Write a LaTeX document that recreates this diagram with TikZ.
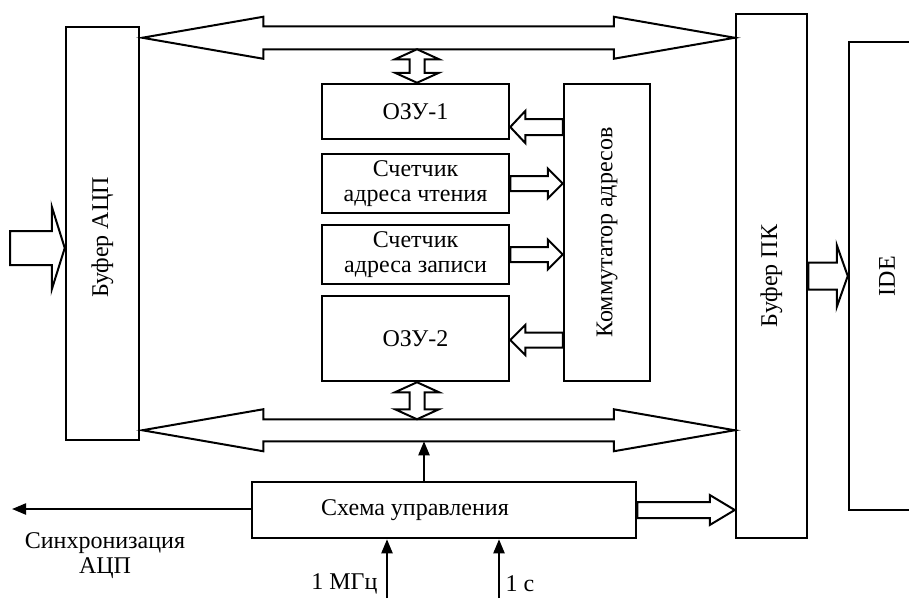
\documentclass[tikz,border=0pt]{standalone}
\usepackage{fontspec}
\setmainfont{Liberation Serif}
\usetikzlibrary{calc}
\usetikzlibrary{arrows.meta}

\newcommand{\fatarrow}[5]{%
  \coordinate (fa-h) at ($(#2)!#5!(#1)$);
  \draw[hollow] ($(#1)!#3!90:(#2)$) -- ($(fa-h)!#3!90:(#2)$) -- ($(fa-h)!#4!90:(#2)$) -- (#2)
    -- ($(fa-h)!#4!-90:(#2)$) -- ($(fa-h)!#3!-90:(#2)$) -- ($(#1)!#3!-90:(#2)$) -- cycle;}
\newcommand{\fatdarrow}[5]{%
  \coordinate (fd-a) at ($(#1)!#5!(#2)$);
  \coordinate (fd-b) at ($(#2)!#5!(#1)$);
  \draw[hollow] (#1) -- ($(fd-a)!#4!90:(#2)$) -- ($(fd-a)!#3!90:(#2)$) -- ($(fd-b)!#3!90:(#2)$)
    -- ($(fd-b)!#4!90:(#2)$) -- (#2) -- ($(fd-b)!#4!-90:(#2)$) -- ($(fd-b)!#3!-90:(#2)$)
    -- ($(fd-a)!#3!-90:(#2)$) -- ($(fd-a)!#4!-90:(#2)$) -- cycle;}

\begin{document}
\begin{tikzpicture}[x=1pt, y=-1pt, line join=miter, >={Triangle[length=14pt,width=11pt]},
  every node/.style={font=\fontsize{24}{25}\selectfont}]
\tikzstyle{box}=[draw, line width=2.5pt, inner sep=0pt, align=center]
\tikzstyle{hollow}=[draw, fill=white, line width=2pt]
\tikzstyle{sig}=[line width=2.2pt, ->]
\useasboundingbox (0,0) rectangle (909,598);

\node[box, minimum width=73pt, minimum height=413pt] (bufadc) at (102.5,233.5) {\rotatebox{90}{Буфер АЦП\hspace{8pt}}};
\node[box, minimum width=71pt, minimum height=524pt] (bufpc) at (771.5,276) {\rotatebox{90}{Буфер ПК}};
\node[box, minimum width=76pt, minimum height=468pt] (ide) at (887,276) {\rotatebox{90}{IDE}};
\node[box, minimum width=187pt, minimum height=55pt] (ozu1) at (415.5,111.5) {ОЗУ-1};
\node[box, minimum width=187pt, minimum height=59pt] (cntrd) at (415.5,183.5) {Счетчик\\адреса чтения};
\node[box, minimum width=187pt, minimum height=59pt] (cntwr) at (415.5,254.5) {Счетчик\\адреса записи};
\node[box, minimum width=187pt, minimum height=85pt] (ozu2) at (415.5,338.5) {ОЗУ-2};
\node[box, minimum width=86pt, minimum height=297pt] (komm) at (607,232.5) {\rotatebox{90}{Коммутатор адресов}};
\node[box, minimum width=384pt, minimum height=56pt] (ctrl) at (444,510) {Схема управления\hspace{58pt}};

\node[align=center] (sync) at (105,556) {Синхронизация\\АЦП};
\node[anchor=east] (mhz) at (381,584) {1 МГц};
\node[anchor=west] (sec) at (502,584) {1 с};

\coordinate (busT-l) at ($(bufadc.north east)+(2,12)$);
\coordinate (busT-r) at (bufpc.west |- busT-l);
\coordinate (busT-s) at ($(busT-l)+(0,11.5)$);
\coordinate (busB-l) at ($(bufadc.south east)+(2,-11)$);
\coordinate (busB-r) at (bufpc.west |- busB-l);
\coordinate (busB-n) at ($(busB-l)+(0,-11)$);
\coordinate (busB-s) at ($(busB-l)+(0,11)$);
\coordinate (ram1-t) at ($(ozu1.north)+(1.5,0)$);
\coordinate (ram1-b) at (ram1-t |- busT-s);
\coordinate (ram2-b) at ($(ozu2.south)+(1.5,0)$);
\coordinate (ram2-t) at (ram2-b |- busB-n);
\coordinate (k1-a) at ($(komm.west)+(0,-105.5)$);
\coordinate (k1-b) at (ozu1.east |- k1-a);
\coordinate (k2-b) at (komm.west |- cntrd.east);
\coordinate (k3-b) at (komm.west |- cntwr.east);
\coordinate (k4-a) at ($(komm.west)+(0,107.5)$);
\coordinate (k4-b) at (ozu2.east |- k4-a);
\coordinate (pc-b) at (bufpc.west |- ctrl.east);
\coordinate (ide-a) at (bufpc.east |- ide.west);
\coordinate (in-a) at (10,248);
\coordinate (in-b) at (bufadc.west |- in-a);
\coordinate (ctl-n) at ($(ctrl.north)+(-20,0)$);
\coordinate (sync-e) at (12,509);
\coordinate (mhz-s) at (387,598);
\coordinate (sec-s) at (499,598);

\fatdarrow{busT-l}{busT-r}{11.5pt}{21pt}{121pt}
\fatdarrow{busB-l}{busB-r}{11pt}{21pt}{121pt}
\fatdarrow{ram1-t}{ram1-b}{7.5pt}{22pt}{10pt}
\fatdarrow{ram2-b}{ram2-t}{7.5pt}{22pt}{10pt}
\fatarrow{k1-a}{k1-b}{8pt}{16pt}{15pt}
\fatarrow{cntrd.east}{k2-b}{7.5pt}{15pt}{15pt}
\fatarrow{cntwr.east}{k3-b}{7.5pt}{15pt}{15pt}
\fatarrow{k4-a}{k4-b}{7.5pt}{15pt}{15pt}
\fatarrow{ctrl.east}{pc-b}{8pt}{15pt}{25pt}
\fatarrow{ide-a}{ide.west}{13.5pt}{31pt}{11pt}
\fatarrow{in-a}{in-b}{17pt}{41.5pt}{13pt}

\draw[sig] (ctl-n) -- (ctl-n |- busB-s);
\draw[sig] (ctrl.west |- sync-e) -- (sync-e);
\draw[sig] (mhz-s) -- (mhz-s |- ctrl.south);
\draw[sig] (sec-s) -- (sec-s |- ctrl.south);
\end{tikzpicture}
\end{document}
